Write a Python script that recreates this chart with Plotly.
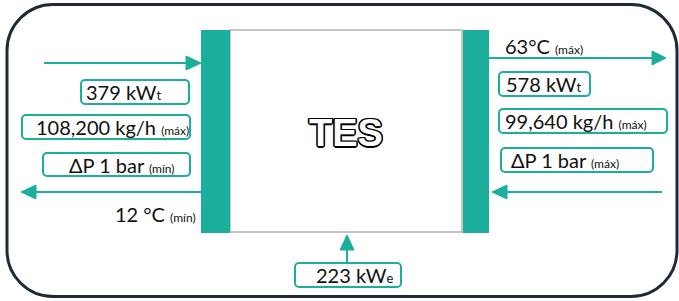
import plotly.graph_objects as go

W, H = 679, 301
TEAL = "#1bae9b"
DARK = "#1e2a38"
GRAY = "#c4c4c4"
TEXT = "#111111"
FONT = "Lato"

# ---- labels / values ----
title_text = "TES"
SUB = "<span style='font-size:13px'>{}</span>"
left_values = ["379 kW" + SUB.format("t"), "108,200 kg/h", "ΔP 1 bar"]
left_notes = ["", "(máx)", "(mín)"]
left_temp = "12 °C"
left_temp_note = "(mín)"
right_values = ["578 kW" + SUB.format("t"), "99,640 kg/h", "ΔP 1 bar"]
right_notes = ["", "(máx)", "(máx)"]
right_temp = "63°C"
right_temp_note = "(máx)"
power_in = "223 kW" + SUB.format("e")

# ---- layout geometry (pixels) ----
left_boxes = [(81, 80, 189, 104), (22, 115, 190, 139), (43, 153, 190, 176)]
left_text_x = [84, 34, 67]
right_boxes = [(499, 72, 590, 96), (499, 109, 667, 133), (501, 148, 653, 172)]
right_text_x = [504, 503, 509]


def rrect(x0, y0, x1, y1, r):
    k = 0.5523 * r
    return (f"M{x0+r},{y0} L{x1-r},{y0} C{x1-r+k},{y0} {x1},{y0+r-k} {x1},{y0+r} "
            f"L{x1},{y1-r} C{x1},{y1-r+k} {x1-r+k},{y1} {x1-r},{y1} "
            f"L{x0+r},{y1} C{x0+r-k},{y1} {x0},{y1-r+k} {x0},{y1-r} "
            f"L{x0},{y0+r} C{x0},{y0+r-k} {x0+r-k},{y0} {x0+r},{y0} Z")


def label(text, note):
    if note:
        return f"{text} <span style='font-size:12px'>{note}</span>"
    return text


shapes = []
annotations = []

# outer rounded frame
shapes.append(dict(type="path", path=rrect(7, 4.5, 677, 296.5, 46),
                   line=dict(color=DARK, width=3), fillcolor="white", layer="below"))
# TES box
shapes.append(dict(type="rect", x0=230, y0=30, x1=462, y1=232,
                   line=dict(color=GRAY, width=2), fillcolor="white"))
# teal side bars
shapes.append(dict(type="rect", x0=201, y0=30, x1=230, y1=233, line=dict(width=0), fillcolor=TEAL))
shapes.append(dict(type="rect", x0=463, y0=30, x1=489, y1=233, line=dict(width=0), fillcolor=TEAL))


def hline(x0, x1, y):
    shapes.append(dict(type="line", x0=x0, x1=x1, y0=y, y1=y, line=dict(color=TEAL, width=2)))


def tri(path):
    shapes.append(dict(type="path", path=path, fillcolor=TEAL, line=dict(color=TEAL, width=1)))


# arrows
hline(44, 188, 63)
tri("M201,63 L186,56 L186,70 Z")
hline(34, 201, 192)
tri("M21,192 L36,185 L36,199 Z")
hline(489, 654, 58)
tri("M666,58 L652,51 L652,65 Z")
hline(505, 662, 192)
tri("M492,192 L507,185 L507,199 Z")
shapes.append(dict(type="line", x0=347, x1=347, y0=250, y1=263, line=dict(color=TEAL, width=2)))
tri("M347,235 L340,250 L354,250 Z")

# label boxes
for (x0, y0, x1, y1) in left_boxes + right_boxes + [(295, 263, 401, 287)]:
    shapes.append(dict(type="path", path=rrect(x0, y0, x1, y1, 4),
                       line=dict(color=TEAL, width=2), fillcolor="white"))

FS = 20
for (box, tx, v, n) in zip(left_boxes, left_text_x, left_values, left_notes):
    annotations.append(dict(x=tx, y=(box[1] + box[3]) / 2, text=label(v, n), xanchor="left",
                            yanchor="middle", showarrow=False,
                            font=dict(family=FONT, size=FS, color=TEXT)))
for (box, tx, v, n) in zip(right_boxes, right_text_x, right_values, right_notes):
    annotations.append(dict(x=tx, y=(box[1] + box[3]) / 2, text=label(v, n), xanchor="left",
                            yanchor="middle", showarrow=False,
                            font=dict(family=FONT, size=FS, color=TEXT)))
annotations.append(dict(x=113, y=214, text=label(left_temp, left_temp_note), xanchor="left",
                        yanchor="middle", showarrow=False, font=dict(family=FONT, size=FS, color=TEXT)))
annotations.append(dict(x=503, y=46, text=label(right_temp, right_temp_note), xanchor="left",
                        yanchor="middle", showarrow=False, font=dict(family=FONT, size=FS, color=TEXT)))
annotations.append(dict(x=314, y=275, text=power_in, xanchor="left",
                        yanchor="middle", showarrow=False, font=dict(family=FONT, size=FS, color=TEXT)))

# outlined title
annotations.append(dict(x=346, y=133, text=f"<b>{title_text}</b>", showarrow=False,
                        xanchor="center", yanchor="middle",
                        font=dict(family="Liberation Sans", size=38, color="white",
                                  shadow="-1.2px -1.2px 0 #000, 1.2px -1.2px 0 #000, -1.2px 1.2px 0 #000, 1.2px 1.2px 0 #000, 0 1.5px 0 #000, 0 -1.5px 0 #000, 1.5px 0 0 #000, -1.5px 0 0 #000")))

fig = go.Figure()
fig.update_layout(
    width=W, height=H, margin=dict(l=0, r=0, t=0, b=0),
    paper_bgcolor="white", plot_bgcolor="white",
    xaxis=dict(range=[0, W], visible=False, fixedrange=True),
    yaxis=dict(range=[H, 0], visible=False, fixedrange=True),
    shapes=shapes, annotations=annotations, showlegend=False,
)
fig.write_html("out.html", config=dict(displayModeBar=False),
               post_script="document.body.style.margin='0';document.body.style.overflow='hidden';")
